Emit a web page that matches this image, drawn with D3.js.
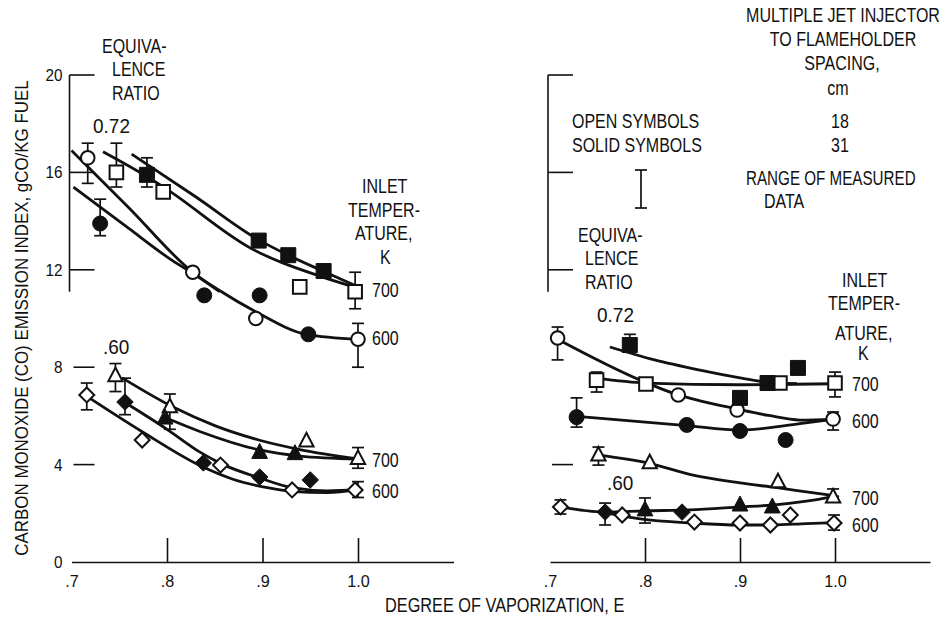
<!DOCTYPE html>
<html>
<head>
<meta charset="utf-8">
<script src="https://cdn.jsdelivr.net/npm/d3@7"></script>
<style>
  body { margin: 0; background: #fff; }
  svg { display: block; }
  text { font-family: "Liberation Sans", Arial, sans-serif; fill: #111; }
</style>
</head>
<body>
<div id="chart"></div>
<script>
// values: x = degree of vaporization E, y = CO emission index
const xTickValues = [0.7, 0.8, 0.9, 1.0];
const xTickLabels = [".7", ".8", ".9", "1.0"];
const yTickValues = [0, 4, 8, 12, 16, 20];
const yTicksRight = [4, 12, 16, 20];

// left panel - measured points
const aOpenCircle = [[0.717,16.6],[0.827,11.9],[0.893,10.0],[1.0,9.15]];
const aSolidCircle = [[0.730,13.9],[0.839,10.95],[0.897,10.95],[0.948,9.35]];
const aOpenSquare = [[0.747,16.0],[0.796,15.2],[0.939,11.3],[0.997,11.1]];
const aSolidSquare = [[0.779,15.9],[0.896,13.2],[0.927,12.6],[0.964,11.95]];
const aOpenTriangle = [[0.746,7.65],[0.803,6.37],[0.946,4.97],[1.0,4.25]];
const aSolidTriangle = [[0.798,5.91],[0.897,4.5],[0.934,4.45]];
const aOpenDiamond = [[0.716,6.86],[0.774,5.01],[0.856,3.98],[0.931,2.96],[0.997,2.96]];
const aSolidDiamond = [[0.756,6.57],[0.838,4.07],[0.897,3.49],[0.95,3.37]];
// left panel - range of measured data [E, low, high]
const aErrorBars = [[0.717,15.55,17.2],[0.730,13.4,14.9],[0.747,15.4,17.2],[0.779,15.4,16.6],
  [1.0,8.0,9.8],[0.997,10.4,11.9],[0.746,7.0,8.15],[0.803,5.45,6.9],[0.716,6.25,7.35],
  [0.756,6.05,7.55],[1.0,3.85,4.7],[1.0,2.65,3.3]];
// left panel - faired curves
const aOpenCircleFit = [[0.70,16.9],[0.76,14.55],[0.827,11.9],[0.855,11.15],[0.892,10.3],[0.946,9.35],[1.0,9.15]];
const aSolidCircleFit = [[0.702,15.4],[0.76,13.7],[0.803,12.45],[0.827,11.85],[0.855,11.1]];
const aOpenSquareFit = [[0.733,16.85],[0.778,15.85],[0.8,15.3],[0.887,12.9],[0.963,11.7],[1.0,11.25]];
const aSolidSquareFit = [[0.763,16.75],[0.83,15.0],[0.895,13.25],[0.927,12.6],[0.963,11.95],[1.0,11.3]];
const aOpenTriangleFit = [[0.753,7.56],[0.808,6.33],[0.85,5.6],[0.897,5.0],[0.939,4.62],[1.0,4.23]];
const aSolidTriangleFit = [[0.803,5.85],[0.835,5.35],[0.897,4.6],[0.939,4.35],[1.0,4.23]];
const aOpenDiamondFit = [[0.717,6.78],[0.774,5.35],[0.835,3.95],[0.869,3.4],[0.905,3.05],[0.93,2.9],[0.968,2.85],[1.0,2.98]];
const aSolidDiamondFit = [[0.756,6.55],[0.8,5.45],[0.835,4.5],[0.856,4.05],[0.897,3.45],[0.931,3.05],[0.968,2.92],[1.0,2.98]];

// right panel - measured points
const bOpenCircle = [[0.708,9.2],[0.835,6.86],[0.897,6.24],[0.998,5.87]];
const bSolidCircle = [[0.728,5.95],[0.844,5.63],[0.9,5.38],[0.948,5.01]];
const bOpenSquare = [[0.749,7.47],[0.801,7.31],[0.942,7.35],[1.0,7.35]];
const bSolidSquare = [[0.784,8.91],[0.9,6.74],[0.929,7.35],[0.961,7.97]];
const bOpenTriangle = [[0.751,4.39],[0.805,4.07],[0.94,3.29],[0.998,2.67]];
const bSolidTriangle = [[0.8,2.14],[0.9,2.34],[0.934,2.26]];
const bOpenDiamond = [[0.711,2.26],[0.776,1.93],[0.852,1.64],[0.9,1.6],[0.932,1.52],[0.953,1.93],[0.999,1.6]];
const bSolidDiamond = [[0.758,2.05],[0.839,2.05]];
const bErrorBars = [[0.708,8.3,9.65],[0.784,8.9,9.35],[0.749,6.98,7.8],[0.728,5.54,6.74],
  [1.0,6.78,7.8],[0.998,5.42,6.16],[0.751,3.98,4.72],[0.711,1.97,2.55],[0.758,1.52,2.42],
  [0.8,1.6,2.63],[0.998,2.7,3.0],[0.999,1.31,1.93]];
const bOpenCircleFit = [[0.708,9.15],[0.795,7.47],[0.835,6.86],[0.858,6.62],[0.895,6.3],[0.93,6.02],[0.963,5.83],[1.0,5.87]];
const bSolidCircleFit = [[0.728,5.98],[0.844,5.6],[0.9,5.42],[0.963,5.68],[1.0,5.87]];
const bOpenSquareFit = [[0.749,7.55],[0.801,7.35],[0.9,7.28],[1.0,7.32]];
const bSolidSquareFit = [[0.763,8.83],[0.81,8.3],[0.858,7.88],[0.9,7.56],[0.926,7.4],[0.96,7.32]];
const bOpenTriangleFit = [[0.751,4.39],[0.805,4.05],[0.847,3.6],[0.9,3.25],[0.939,3.05],[0.97,2.88],[1.0,2.72]];
const bSolidTriangleFit = [[0.711,2.26],[0.758,2.05],[0.8,2.1],[0.847,2.14],[0.9,2.26],[0.934,2.34],[0.97,2.5],[1.0,2.7]];
const bOpenDiamondFit = [[0.758,2.03],[0.795,1.77],[0.85,1.6],[0.9,1.52],[0.934,1.52],[0.97,1.58],[1.0,1.62]];

const w = 945, h = 618;
const ink = "#111";

let svg = d3.select("#chart")
            .append("svg")
            .attr("width", w)
            .attr("height", h);

let y = d3.scaleLinear().domain([0, 20]).range([562, 75]);
let xA = d3.scaleLinear().domain([0.7, 1.1]).range([71.5, 453.5]);
let xB = d3.scaleLinear().domain([0.7, 1.1]).range([550, 930]);

// text helper, the figure uses a tall narrow lettering
let label = (x, yy, str, anchor = "start", size = 20, sx = 0.8) => {
  svg.append("text")
     .attr("transform", `translate(${x},${yy}) scale(${sx},1)`)
     .attr("text-anchor", anchor)
     .style("font-size", `${size}px`)
     .text(str);
};

// x axes, ticks point up into the plot
let drawXAxis = (x) => {
  let g = svg.append("g")
             .attr("transform", `translate(0,${y(0)})`)
             .call(d3.axisBottom(x)
                     .tickValues(xTickValues)
                     .tickFormat((d, i) => xTickLabels[i])
                     .tickSize(-24)
                     .tickSizeOuter(0)
                     .tickPadding(13));
  g.select(".domain").attr("stroke", ink).attr("stroke-width", 1.6);
  g.selectAll(".tick line").attr("stroke", ink).attr("stroke-width", 1.6)
   .filter(d => d === 0.7).remove();
  g.selectAll(".tick text")
   .style("font-size", "17px")
   .attr("fill", ink)
   .attr("transform", "scale(0.95,1)");
};

// y axes: a short spine at the top, dashes for the ticks
let drawYAxis = (ax, ticks, withLabels) => {
  svg.append("line")
     .attr("x1", ax).attr("x2", ax)
     .attr("y1", y(20)).attr("y2", y(11.1))
     .attr("stroke", ink).attr("stroke-width", 1.6);
  ticks.filter(d => d > 0).forEach(d => {
    let start = d >= 12 ? ax : ax + 4;
    svg.append("line")
       .attr("x1", start).attr("x2", ax + 25)
       .attr("y1", y(d)).attr("y2", y(d))
       .attr("stroke", ink).attr("stroke-width", 1.6);
  });
  if (withLabels) {
    ticks.forEach(d => {
      svg.append("text")
         .attr("transform", `translate(${ax - 7},${y(d) + 6}) scale(0.9,1)`)
         .attr("text-anchor", "end")
         .style("font-size", "17px")
         .text(d);
    });
  }
};

drawXAxis(xA);
drawXAxis(xB);
drawYAxis(xA(0.7) - 2, yTickValues, true);
drawYAxis(xB(0.7) - 2, yTicksRight, false);

// faired curves
let curves = [
  [xA, aOpenCircleFit], [xA, aSolidCircleFit], [xA, aOpenSquareFit], [xA, aSolidSquareFit],
  [xA, aOpenTriangleFit], [xA, aSolidTriangleFit], [xA, aOpenDiamondFit], [xA, aSolidDiamondFit],
  [xB, bOpenCircleFit], [xB, bSolidCircleFit], [xB, bOpenSquareFit], [xB, bSolidSquareFit],
  [xB, bOpenTriangleFit], [xB, bSolidTriangleFit], [xB, bOpenDiamondFit]
];

curves.forEach(([x, pts]) => {
  let line = d3.line()
               .x(d => x(d[0]))
               .y(d => y(d[1]))
               .curve(d3.curveMonotoneX);
  svg.append("path")
     .attr("d", line(pts))
     .attr("fill", "none")
     .attr("stroke", ink)
     .attr("stroke-width", 2.8);
});

// range of measured data
let errorBar = (cx, y1, y2) => {
  let g = svg.append("g").attr("stroke", ink).attr("stroke-width", 1.7);
  g.append("line").attr("x1", cx).attr("x2", cx).attr("y1", y1).attr("y2", y2);
  g.append("line").attr("x1", cx - 6).attr("x2", cx + 6).attr("y1", y1).attr("y2", y1);
  g.append("line").attr("x1", cx - 6).attr("x2", cx + 6).attr("y1", y2).attr("y2", y2);
};

aErrorBars.forEach(d => errorBar(xA(d[0]), y(d[2]), y(d[1])));
bErrorBars.forEach(d => errorBar(xB(d[0]), y(d[2]), y(d[1])));

// symbols
let shapes = {
  circle: s => d3.path().toString() || `M${s},0A${s},${s} 0 1,1 ${-s},0A${s},${s} 0 1,1 ${s},0Z`,
  square: s => `M${-s},${-s}H${s}V${s}H${-s}Z`,
  triangle: s => `M0,${-s * 1.2}L${s * 1.05},${s * 0.8}L${-s * 1.05},${s * 0.8}Z`,
  diamond: s => `M0,${-s * 1.1}L${s * 1.1},0L0,${s * 1.1}L${-s * 1.1},0Z`
};

let series = [
  [xA, aOpenCircle, "circle", false], [xA, aSolidCircle, "circle", true],
  [xA, aOpenSquare, "square", false], [xA, aSolidSquare, "square", true],
  [xA, aOpenTriangle, "triangle", false], [xA, aSolidTriangle, "triangle", true],
  [xA, aOpenDiamond, "diamond", false], [xA, aSolidDiamond, "diamond", true],
  [xB, bOpenCircle, "circle", false], [xB, bSolidCircle, "circle", true],
  [xB, bOpenSquare, "square", false], [xB, bSolidSquare, "square", true],
  [xB, bOpenTriangle, "triangle", false], [xB, bSolidTriangle, "triangle", true],
  [xB, bOpenDiamond, "diamond", false], [xB, bSolidDiamond, "diamond", true]
];

series.forEach(([x, pts, shape, solid]) => {
  let s = solid ? 7.5 : 6.8;
  svg.append("g")
     .selectAll("path")
     .data(pts)
     .enter()
     .append("path")
     .attr("transform", d => `translate(${x(d[0])},${y(d[1])})`)
     .attr("d", shape === "circle"
                  ? `M${s},0A${s},${s} 0 1,1 ${-s},0A${s},${s} 0 1,1 ${s},0Z`
                  : shapes[shape](s))
     .attr("fill", solid ? ink : "#fff")
     .attr("stroke", ink)
     .attr("stroke-width", solid ? 1 : 2);
});

// axis titles
svg.append("text")
   .attr("transform", "translate(28,318) rotate(-90) scale(0.94,1)")
   .attr("text-anchor", "middle")
   .style("font-size", "18px")
   .text("CARBON MONOXIDE (CO) EMISSION INDEX, gCO/KG FUEL");
label(385, 612, "DEGREE OF VAPORIZATION, E", "start", 20, 0.815);

// left panel notes
label(102, 53, "EQUIVA-");
label(112, 76, "LENCE");
label(112, 100, "RATIO");
label(93, 133, "0.72", "start", 20, 0.95);
label(362, 193, "INLET");
label(348, 217, "TEMPER-");
label(355, 240, "ATURE,");
label(380, 264, "K");
label(372, 297, "700");
label(372, 345, "600");
label(103, 354, ".60", "start", 20, 0.95);
label(372, 467, "700");
label(372, 498, "600");

// right panel notes and key
label(843, 22, "MULTIPLE JET INJECTOR", "middle");
label(843, 46, "TO FLAMEHOLDER", "middle");
label(842, 70, "SPACING,", "middle");
label(838, 95, "cm", "middle");
label(572, 128, "OPEN SYMBOLS");
label(572, 152, "SOLID SYMBOLS");
label(840, 128, "18", "middle");
label(840, 152, "31", "middle");
errorBar(641, 170, 208);
label(746, 185, "RANGE OF MEASURED", "start", 20, 0.76);
label(764, 208, "DATA");
label(578, 242, "EQUIVA-");
label(585, 265, "LENCE");
label(585, 289, "RATIO");
label(597, 322, "0.72", "start", 20, 0.95);
label(842, 287, "INLET");
label(828, 310, "TEMPER-");
label(835, 340, "ATURE,");
label(858, 360, "K");
label(852, 391, "700");
label(852, 428, "600");
label(607, 490, ".60", "start", 20, 0.95);
label(852, 505, "700");
label(852, 532, "600");
</script>
</body>
</html>
